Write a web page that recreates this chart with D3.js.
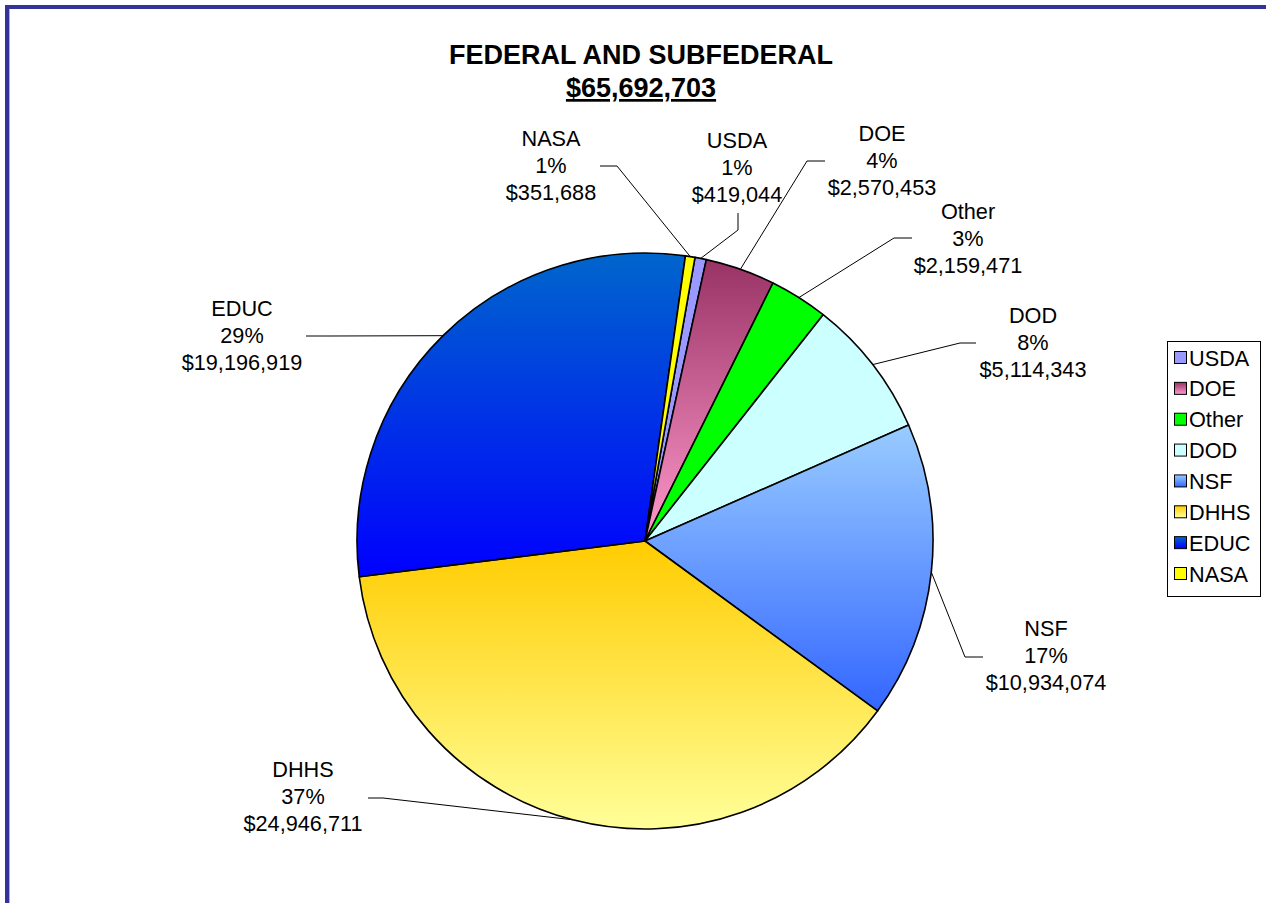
<!DOCTYPE html>
<html>
<head>
<meta charset="utf-8">
<script src="https://cdn.jsdelivr.net/npm/d3@7"></script>
<style>
	html, body { margin: 0; padding: 0; background: #fff; }
	svg { display: block; font-family: "Liberation Sans", Arial, sans-serif; }
</style>
</head>
<body>
<svg class="chart-container" width="1266" height="903"></svg>
<script>
// data, clockwise from the first slice
const agencies = ['USDA', 'DOE', 'Other', 'DOD', 'NSF', 'DHHS', 'EDUC', 'NASA'];
const amounts = [419044, 2570453, 2159471, 5114343, 10934074, 24946711, 19196919, 351688];
const pctLabels = ['1%', '4%', '3%', '8%', '17%', '37%', '29%', '1%'];
const titleText = 'FEDERAL AND SUBFEDERAL';
const totalText = '$65,692,703';

// slice fills: [top, bottom] of a vertical gradient
const fills = [
	['#9999ff', '#9999ff'],
	['#993366', '#ff99cc'],
	['#00ff00', '#00ff00'],
	['#ccffff', '#ccffff'],
	['#99ccff', '#3366ff'],
	['#ffcc00', '#ffff99'],
	['#0066cc', '#0000ff'],
	['#ffff00', '#ffff00']
];

// label layout: text centre x, first baseline y, elbow points of the leader
const labelLayout = {
	USDA: { x: 737, y: 148, pts: [[738, 213], [738, 230]] },
	DOE: { x: 882, y: 141, pts: [[825, 161], [807, 161]] },
	Other: { x: 968, y: 219, pts: [[912, 238], [894, 238]] },
	DOD: { x: 1033, y: 323, pts: [[976, 343], [960, 343]] },
	NSF: { x: 1046, y: 636, pts: [[983, 657], [965, 657]] },
	DHHS: { x: 303, y: 777, pts: [[368, 798], [383, 798]] },
	EDUC: { x: 242, y: 316, pts: [[306, 336], [330, 336]] },
	NASA: { x: 551, y: 146, pts: [[600, 166], [617, 166]] }
};

const center = { x: 645, y: 541 };
const radius = 288;
const lineGap = 27;

const svg = d3.select('.chart-container');
const fmt = d3.format('$,');

// frame
svg.append('rect').attr('x', 5).attr('y', 5).attr('width', 1261).attr('height', 4).attr('fill', '#333399');
svg.append('rect').attr('x', 5).attr('y', 5).attr('width', 4).attr('height', 898).attr('fill', '#333399');
svg.append('rect').attr('x', 9).attr('y', 9).attr('width', 1).attr('height', 894).attr('fill', '#aaaae6');

// gradients
const defs = svg.append('defs');
fills.forEach(function(f, i) {
	const g = defs.append('linearGradient')
		.attr('id', 'grad' + i)
		.attr('x1', 0).attr('y1', 0).attr('x2', 0).attr('y2', 1);
	g.append('stop').attr('offset', '0%').attr('stop-color', f[0]);
	g.append('stop').attr('offset', '100%').attr('stop-color', f[1]);
});

// title
svg.append('text')
	.attr('x', 641).attr('y', 64)
	.attr('text-anchor', 'middle')
	.style('font-size', '27px').style('font-weight', 'bold')
	.text(titleText);
svg.append('text')
	.attr('x', 641).attr('y', 97)
	.attr('text-anchor', 'middle')
	.style('font-size', '27px').style('font-weight', 'bold')
	.style('text-decoration', 'underline')
	.text(totalText);

// pie
const pie = d3.pie().sort(null).startAngle(10 * Math.PI / 180).endAngle(370 * Math.PI / 180);
const arcs = pie(amounts);
const arc = d3.arc().innerRadius(0).outerRadius(radius);
const edgeArc = d3.arc().innerRadius(radius).outerRadius(radius);

const pieElem = svg.append('g').attr('class', 'pie')
	.attr('transform', 'translate(' + center.x + ',' + center.y + ')');

pieElem.selectAll('.slice')
	.data(arcs)
	.enter()
	.append('path')
	.attr('class', 'slice')
	.attr('d', arc)
	.attr('fill', function(d, i) { return 'url(#grad' + i + ')'; })
	.attr('stroke', '#000')
	.attr('stroke-width', 1.6)
	.attr('stroke-linejoin', 'round');

// leader lines + labels
const labelElem = svg.append('g').attr('class', 'labels');
arcs.forEach(function(d, i) {
	const name = agencies[i];
	const lay = labelLayout[name];
	const c = edgeArc.centroid(d);
	const pts = lay.pts.concat([[center.x + c[0], center.y + c[1]]]);

	labelElem.append('path')
		.attr('d', d3.line()(pts))
		.attr('fill', 'none')
		.attr('stroke', '#000')
		.attr('stroke-width', 1);

	const t = labelElem.append('text')
		.attr('text-anchor', 'middle')
		.style('font-size', '21.7px')
		.attr('fill', '#000');
	[name, pctLabels[i], fmt(amounts[i])].forEach(function(s, k) {
		t.append('tspan').attr('x', lay.x).attr('y', lay.y + k * lineGap).text(s);
	});
});

// legend
const legend = svg.append('g').attr('class', 'legend');
legend.append('rect')
	.attr('x', 1167.5).attr('y', 341.5).attr('width', 93).attr('height', 255)
	.attr('fill', '#fff').attr('stroke', '#000').attr('stroke-width', 1);

const legendY = d3.scalePoint().domain(agencies).range([358, 574]);
const items = legend.selectAll('.legend-item')
	.data(agencies)
	.enter()
	.append('g')
	.attr('class', 'legend-item')
	.attr('transform', function(d) { return 'translate(0,' + legendY(d) + ')'; });

items.append('rect')
	.attr('x', 1174.5).attr('y', -6.5).attr('width', 12).attr('height', 12)
	.attr('fill', function(d, i) { return 'url(#grad' + i + ')'; })
	.attr('stroke', '#000').attr('stroke-width', 1);

items.append('text')
	.attr('x', 1189).attr('y', 7.5)
	.style('font-size', '21.7px')
	.text(function(d) { return d; });
</script>
</body>
</html>
